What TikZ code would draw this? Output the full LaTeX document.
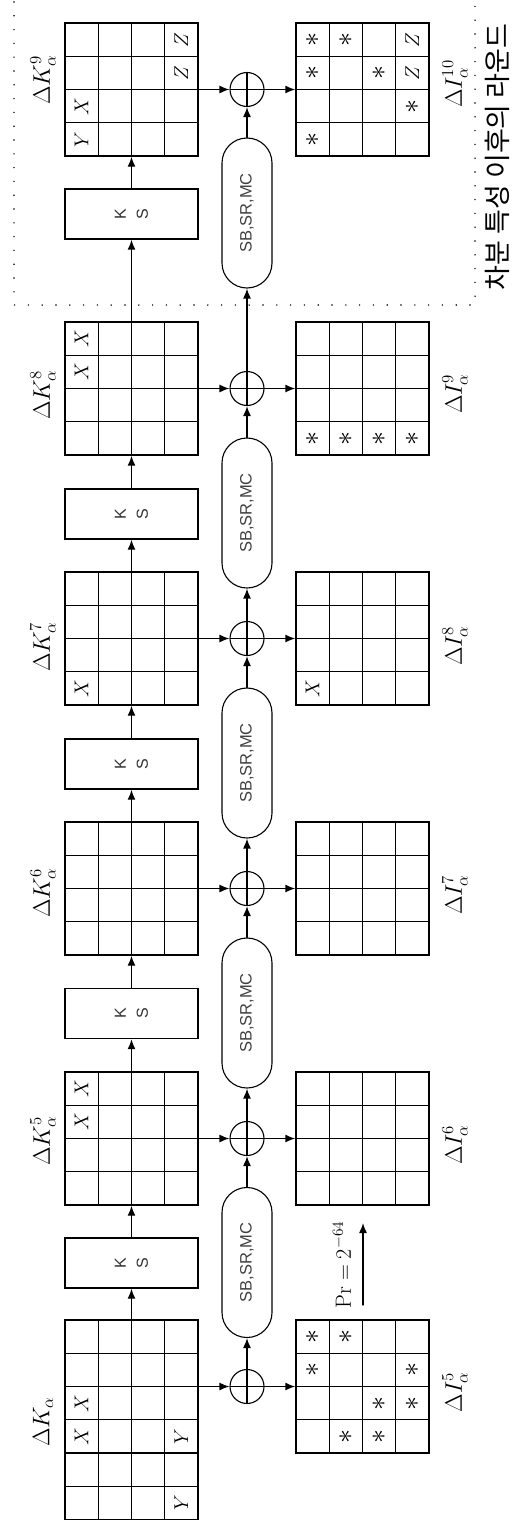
\RequirePackage{fix-cm}
\documentclass[tikz,border=0pt]{standalone}
\usepackage[no-math]{fontspec}
\newfontfamily\kofont{Noto Sans CJK KR}
\newfontfamily\sansf{Liberation Sans}
\usetikzlibrary{arrows.meta,calc}

\begin{document}
\begin{tikzpicture}[x=1pt, y=1pt, line cap=round,
  arr/.style={-{Latex[length=10pt,width=8pt]}, line width=1.4pt},
  mat/.style={draw, line width=1.4pt, minimum width=133pt, minimum height=133pt, inner sep=0pt,
    path picture={\draw[line width=1.4pt] (-66.5,-66.5) grid[step=33.25] (66.5,66.5);}},
  kmat/.style={draw, line width=1.4pt, minimum width=133pt, minimum height=199.5pt, inner sep=0pt,
    path picture={\draw[line width=1.4pt] (-66.5,-99.75) grid[step=33.25] (66.5,99.75);}},
  xor/.style={circle, draw, line width=1.1pt, minimum size=34pt, inner sep=0pt,
    path picture={\draw[line width=1.1pt] (path picture bounding box.north) -- (path picture bounding box.south)
      (path picture bounding box.west) -- (path picture bounding box.east);}},
  ks/.style={draw, line width=1.4pt, rotate=90, minimum width=50pt, minimum height=133pt, align=center,
    font=\sansf\fontsize{16}{22}\selectfont, text=black!80},
  sbox/.style={draw, line width=1.1pt, rotate=90, rounded corners=25pt, minimum width=150pt, minimum height=50pt,
    font=\sansf\fontsize{16.5}{18}\selectfont, text=black!75},
  lab/.style={rotate=90, font=\fontsize{24}{28}\selectfont},
  cell/.style={rotate=90, inner sep=0pt, font=\fontsize{20}{22}\selectfont},
  astc/.style={rotate=90, inner sep=0pt, font=\fontsize{28}{30}\selectfont},
  dots/.style={line width=1.6pt, dash pattern=on 0pt off 13.8pt}]
  \useasboundingbox (0,0) rectangle (517,-1520);

  \node[kmat] (K4) at (131.5,-1419.75) {};
  \node[mat] (K5) at (131.5,-1138.5) {};
  \node[mat] (K6) at (131.5,-888.5) {};
  \node[mat] (K7) at (131.5,-638.5) {};
  \node[mat] (K8) at (131.5,-388.5) {};
  \node[mat] (K9) at (131.5,-89.5) {};
  \node[mat] (I5) at (362.5,-1386.5) {};
  \node[mat] (I6) at (362.5,-1138.5) {};
  \node[mat] (I7) at (362.5,-888.5) {};
  \node[mat] (I8) at (362.5,-638.5) {};
  \node[mat] (I9) at (362.5,-388.5) {};
  \node[mat] (I10) at (362.5,-89.5) {};

  \node[xor] (x4) at (247,-1386.5) {};
  \node[xor] (x5) at (247,-1138.5) {};
  \node[xor] (x6) at (247,-888.5) {};
  \node[xor] (x7) at (247,-638.5) {};
  \node[xor] (x8) at (247,-388.5) {};
  \node[xor] (x9) at (247,-89.5) {};

  \node[ks] (ks1) at (131.5,-1263) {K\\S};
  \node[ks] (ks2) at (131.5,-1013.5) {K\\S};
  \node[ks] (ks3) at (131.5,-764) {K\\S};
  \node[ks] (ks4) at (131.5,-514) {K\\S};
  \node[ks] (ks5) at (131.5,-214) {K\\S};
  \node[sbox] (sb1) at (247,-1262.5) {SB,SR,MC};
  \node[sbox] (sb2) at (247,-1013) {SB,SR,MC};
  \node[sbox] (sb3) at (247,-763) {SB,SR,MC};
  \node[sbox] (sb4) at (247,-513) {SB,SR,MC};
  \node[sbox] (sb5) at (247,-213) {SB,SR,MC};

  \draw[arr] (K4) -- (ks1);
  \draw[arr] (ks1) -- (K5);
  \draw[arr] (K5) -- (ks2);
  \draw[arr] (ks2) -- (K6);
  \draw[arr] (K6) -- (ks3);
  \draw[arr] (ks3) -- (K7);
  \draw[arr] (K7) -- (ks4);
  \draw[arr] (ks4) -- (K8);
  \draw[arr] (K8) -- (ks5);
  \draw[arr] (ks5) -- (K9);

  \draw[arr] (K4.east |- x4) -- (x4);
  \draw[arr] (K5) -- (x5);
  \draw[arr] (K6) -- (x6);
  \draw[arr] (K7) -- (x7);
  \draw[arr] (K8) -- (x8);
  \draw[arr] (K9) -- (x9);
  \draw[arr] (x4) -- (I5);
  \draw[arr] (x5) -- (I6);
  \draw[arr] (x6) -- (I7);
  \draw[arr] (x7) -- (I8);
  \draw[arr] (x8) -- (I9);
  \draw[arr] (x9) -- (I10);

  \draw[arr] (x4) -- (sb1);
  \draw[arr] (sb1) -- (x5);
  \draw[arr] (x5) -- (sb2);
  \draw[arr] (sb2) -- (x6);
  \draw[arr] (x6) -- (sb3);
  \draw[arr] (sb3) -- (x7);
  \draw[arr] (x7) -- (sb4);
  \draw[arr] (sb4) -- (x8);
  \draw[arr] (x8) -- (sb5);
  \draw[arr] (sb5) -- (x9);

  \coordinate (pa) at (363,-1305);
  \coordinate (pb) at (363,-1223);
  \draw[arr] (pa) -- (pb);
  \node[rotate=90, font=\fontsize{22}{24}\selectfont] (pr) at (342,-1265) {$\mathrm{Pr}=2^{-64}$};

  \draw[dots] (14,-2) -- (14,-305) -- (475,-305) -- (475,-2);
  \node[rotate=90, font=\kofont\fontsize{27}{30}\selectfont] (ko) at (497,-157) {차분 특성 이후의 라운드};

  \node[lab] (lK4) at (43,-1422) {$\Delta K_{\alpha}$};
  \node[lab] (lK5) at (43,-1141) {$\Delta K_{\alpha}^{5}$};
  \node[lab] (lK6) at (43,-893) {$\Delta K_{\alpha}^{6}$};
  \node[lab] (lK7) at (43,-647) {$\Delta K_{\alpha}^{7}$};
  \node[lab] (lK8) at (43,-395) {$\Delta K_{\alpha}^{8}$};
  \node[lab] (lK9) at (43,-80) {$\Delta K_{\alpha}^{9}$};
  \node[lab] (lI5) at (455,-1392) {$\Delta I_{\alpha}^{5}$};
  \node[lab] (lI6) at (455,-1145) {$\Delta I_{\alpha}^{6}$};
  \node[lab] (lI7) at (455,-895) {$\Delta I_{\alpha}^{7}$};
  \node[lab] (lI8) at (455,-646) {$\Delta I_{\alpha}^{8}$};
  \node[lab] (lI9) at (455,-394) {$\Delta I_{\alpha}^{9}$};
  \node[lab] (lI10) at (455,-84) {$\Delta I_{\alpha}^{10}$};

  \node[cell] (k4a) at (81.6,-1403.1) {$X$};
  \node[cell] (k4b) at (81.6,-1436.4) {$X$};
  \node[cell] (k4c) at (181.4,-1436.4) {$Y$};
  \node[cell] (k4d) at (181.4,-1502.9) {$Y$};
  \node[astc] (i5a) at (312.6,-1336.6) {$\ast$};
  \node[astc] (i5b) at (345.9,-1336.6) {$\ast$};
  \node[astc] (i5c) at (312.6,-1369.9) {$\ast$};
  \node[astc] (i5d) at (412.4,-1369.9) {$\ast$};
  \node[astc] (i5e) at (379.1,-1403.1) {$\ast$};
  \node[astc] (i5f) at (412.4,-1403.1) {$\ast$};
  \node[astc] (i5g) at (345.9,-1436.4) {$\ast$};
  \node[astc] (i5h) at (379.1,-1436.4) {$\ast$};
  \node[cell] (k5a) at (81.6,-1088.6) {$X$};
  \node[cell] (k5b) at (81.6,-1121.9) {$X$};
  \node[cell] (k7a) at (81.6,-688.4) {$X$};
  \node[cell] (i8a) at (312.6,-688.4) {$X$};
  \node[cell] (k8a) at (81.6,-338.6) {$X$};
  \node[cell] (k8b) at (81.6,-371.9) {$X$};
  \node[astc] (i9a) at (312.6,-438.4) {$\ast$};
  \node[astc] (i9b) at (345.9,-438.4) {$\ast$};
  \node[astc] (i9c) at (379.1,-438.4) {$\ast$};
  \node[astc] (i9d) at (412.4,-438.4) {$\ast$};
  \node[cell] (k9a) at (181.4,-39.6) {$Z$};
  \node[cell] (k9b) at (181.4,-72.9) {$Z$};
  \node[cell] (k9c) at (81.6,-106.1) {$X$};
  \node[cell] (k9d) at (81.6,-139.4) {$Y$};
  \node[astc] (i10a) at (312.6,-39.6) {$\ast$};
  \node[astc] (i10b) at (345.9,-39.6) {$\ast$};
  \node[astc] (i10c) at (312.6,-72.9) {$\ast$};
  \node[astc] (i10d) at (379.1,-72.9) {$\ast$};
  \node[astc] (i10e) at (412.4,-106.1) {$\ast$};
  \node[astc] (i10f) at (312.6,-139.4) {$\ast$};
  \node[cell] (i10g) at (412.4,-39.6) {$Z$};
  \node[cell] (i10h) at (412.4,-72.9) {$Z$};
\end{tikzpicture}
\end{document}
